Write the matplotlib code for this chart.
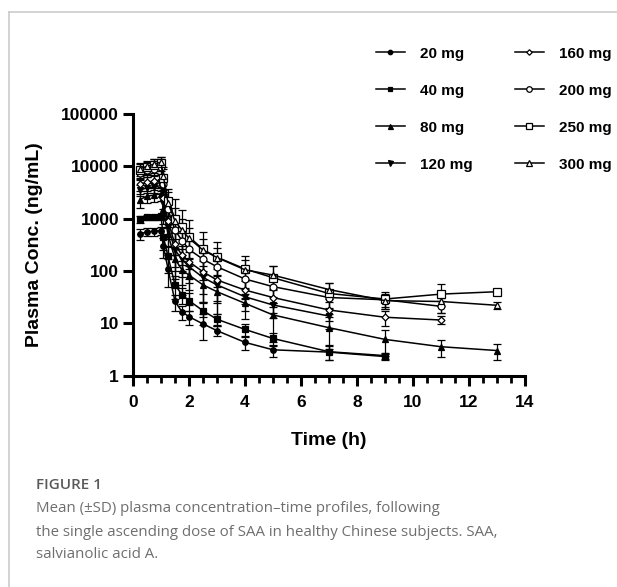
import matplotlib
matplotlib.use("Agg")
import matplotlib.pyplot as plt
from matplotlib.lines import Line2D
from matplotlib.ticker import FixedLocator, MultipleLocator, NullLocator

# ---- data ----
t_all = [0.25, 0.5, 0.75, 1.0, 1.083, 1.25, 1.5, 1.75, 2, 2.5, 3, 4, 5, 7, 9, 11, 13]

labels = ["20 mg", "40 mg", "80 mg", "120 mg", "160 mg", "200 mg", "250 mg", "300 mg"]

mean_20 = [510, 560, 570, 590, 300, 110, 26, 16.5, 13.3, 9.7, 7.2, 4.3, 3.1, 2.8, 2.3]
sd_20 = [120, 100, 100, 110, 120, 60, 9, 5, 4, 5, 1.6, 1.2, 0.8, 0.8, 0.3]

mean_40 = [980, 1050, 1050, 1100, 450, 190, 54, 35, 27, 17.3, 11.9, 7.6, 5.1, 2.85, 2.4]
sd_40 = [150, 130, 130, 150, 200, 100, 25, 12, 10, 8, 3, 2, 1.5, 0.9, 0.3]

mean_80 = [2300, 2700, 2800, 3000, 1500, 500, 170, 104, 83, 54, 40, 24, 14.4, 8.2, 4.9, 3.55, 3.0]
sd_80 = [700, 700, 700, 800, 700, 300, 100, 50, 40, 30, 25, 12, 10, 5, 2.5, 1.3, 1.0]

mean_120 = [3500, 3900, 4000, 4300, 2000, 700, 250, 167, 120, 75, 54, 32, 22.3, 13.7]
sd_120 = [800, 800, 900, 1000, 900, 400, 150, 90, 60, 50, 30, 15, 10, 6]

mean_160 = [4500, 5000, 5200, 5500, 2500, 900, 320, 200, 150, 96, 67, 43, 31, 17.9, 13, 11.5]
sd_160 = [1200, 1200, 1300, 1400, 1000, 500, 200, 100, 80, 60, 40, 20, 15, 7, 4, 2]

mean_200 = [7500, 8500, 9000, 9500, 4500, 1500, 600, 380, 258, 167, 120, 70, 50, 31, 28, 21]
sd_200 = [2000, 2200, 2300, 2500, 2000, 800, 400, 250, 150, 100, 70, 40, 30, 12, 8, 5]

mean_250 = [8500, 9500, 10500, 11500, 6000, 2200, 1000, 680, 450, 258, 183, 109, 74, 37, 29, 36, 40]
sd_250 = [2500, 2800, 3000, 3500, 3000, 1500, 1400, 800, 500, 300, 180, 80, 50, 22, 10, 20, 3]

mean_300 = [9000, 10000, 11000, 12000, 6500, 2000, 900, 600, 420, 250, 180, 105, 83, 44, 27, 26, 22]
sd_300 = [2500, 2800, 3000, 3000, 3000, 1200, 700, 400, 250, 150, 100, 60, 40, 15, 8, 5, 3]

means = [mean_20, mean_40, mean_80, mean_120, mean_160, mean_200, mean_250, mean_300]
sds = [sd_20, sd_40, sd_80, sd_120, sd_160, sd_200, sd_250, sd_300]

x_ticks = [0, 2, 4, 6, 8, 10, 12, 14]
y_ticks = [1, 10, 100, 1000, 10000, 100000]
y_ticklabels = ["1", "10", "100", "1000", "10000", "100000"]

# ---- styling ----
markers = ["o", "s", "^", "v", "D", "o", "s", "^"]
filled = [True, True, True, True, False, False, False, False]
msizes = [4, 4, 4.5, 4.5, 3.5, 5, 5.5, 5]

FONT = "Liberation Sans"
W, H = 617, 587
fig = plt.figure(figsize=(W / 100, H / 100), dpi=100)

# frame lines of the figure panel
fig.add_artist(Line2D([9 / W, 1.0], [1 - 12 / H, 1 - 12 / H], color="#cccccc", lw=1.2))
fig.add_artist(Line2D([9 / W, 9 / W], [1 - 12 / H, 0], color="#cccccc", lw=1.2))

ax = fig.add_axes([133 / W, 1 - 375.5 / H, (525 - 133) / W, (375.5 - 114) / H])
ax.set_yscale("log")

for m, s, mk, fl, ms, lab in zip(means, sds, markers, filled, msizes, labels):
    n = len(m)
    t = t_all[:n]
    lo = [min(sd, v * 0.95) for v, sd in zip(m, s)]
    ax.errorbar(t, m, yerr=[lo, s], color="black", lw=1.1, elinewidth=0.9,
                capsize=3, capthick=0.9, marker=mk, ms=ms,
                mfc="black" if fl else "white", mec="black", mew=0.9, label=lab,
                clip_on=False)

ax.set_xlim(0, 14)
ax.set_ylim(1, 100000)
ax.spines["top"].set_visible(False)
ax.spines["right"].set_visible(False)
for sp in ["left", "bottom"]:
    ax.spines[sp].set_linewidth(2.2)

ax.xaxis.set_major_locator(FixedLocator(x_ticks))
ax.xaxis.set_minor_locator(MultipleLocator(0.5))
ax.yaxis.set_major_locator(FixedLocator(y_ticks))
ax.yaxis.set_minor_locator(NullLocator())
ax.set_yticklabels(y_ticklabels)
ax.tick_params(axis="both", which="major", length=7, width=2.2, labelsize=12.5)
ax.tick_params(axis="x", which="major", pad=7)
ax.tick_params(axis="y", which="major", pad=3)
ax.tick_params(axis="x", which="minor", length=5, width=2.0)
for lbl in ax.get_xticklabels() + ax.get_yticklabels():
    lbl.set_fontfamily(FONT)
    lbl.set_fontweight("bold")

ax.set_xlabel("Time (h)", fontsize=14, fontweight="bold", family=FONT, labelpad=16)
ax.set_ylabel("Plasma Conc. (ng/mL)", fontsize=14, fontweight="bold", family=FONT, labelpad=13)

# legend
handles = [Line2D([], [], color="black", lw=1.1, marker=mk, ms=ms * 0.8,
                  mfc="black" if fl else "white", mec="black", mew=0.9)
           for mk, fl, ms in zip(markers, filled, msizes)]
fig.legend(handles, labels, ncol=2, loc="upper left",
           bbox_to_anchor=(362 / W, 1 - 33 / H), frameon=False,
           prop={"family": FONT, "weight": "bold", "size": 11},
           handlelength=1.9, handletextpad=1.0, columnspacing=2.75, labelspacing=1.5)

# caption
fig.text(36 / W, 1 - 485 / H, "FIGURE 1", fontsize=11, family="Open Sans",
         fontweight="semibold", color="#5a5a5a", va="center")
cap = ["Mean (±SD) plasma concentration\u2013time profiles, following",
       "the single ascending dose of SAA in healthy Chinese subjects. SAA,",
       "salvianolic acid A."]
for i, line in enumerate(cap):
    fig.text(36 / W, 1 - (509 + 23 * i) / H, line, fontsize=10.8, family="Open Sans",
             color="#6e6e6e", va="center")

fig.savefig("out.png", dpi=100)
